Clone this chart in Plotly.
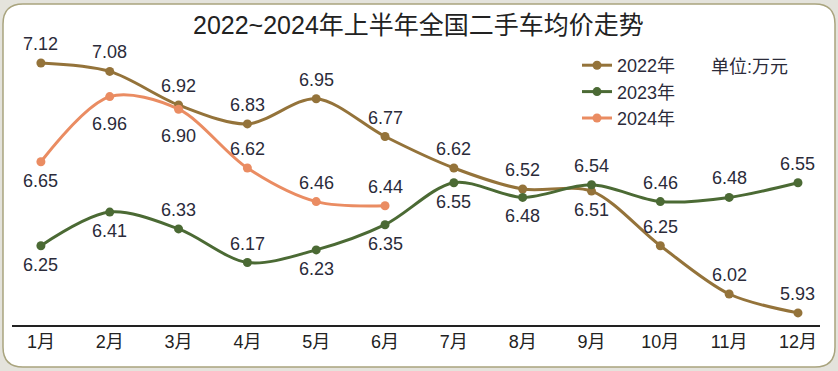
import plotly.graph_objects as go

months = ["1月", "2月", "3月", "4月", "5月", "6月", "7月", "8月", "9月", "10月", "11月", "12月"]
y2022 = [7.12, 7.08, 6.92, 6.83, 6.95, 6.77, 6.62, 6.52, 6.51, 6.25, 6.02, 5.93]
y2023 = [6.25, 6.41, 6.33, 6.17, 6.23, 6.35, 6.55, 6.48, 6.54, 6.46, 6.48, 6.55]
y2024 = [6.65, 6.96, 6.90, 6.62, 6.46, 6.44]

pos2022 = ["a", "a", "a", "a", "a", "a", "a", "a", "b", "a", "a", "a"]
pos2023 = ["b", "b", "a", "a", "b", "b", "b", "b", "a", "a", "a", "a"]
pos2024 = ["b", "B", "B", "a", "a", "a"]

C22, C23, C24 = "#94733a", "#4b6a34", "#ea8c62"
FONT = "Liberation Sans, Arial, Noto Sans CJK SC"
TXT = "#2b2b3a"

W, H = 838, 371
L, R, T, B = 12, 18, 30, 46
pw, ph = W - L - R, H - T - B

def px(x):
    return (x - L) / pw

def py(y):
    return (H - B - y) / ph

fig = go.Figure()
x = list(range(12))
for name, ys, c in [("2022年", y2022, C22), ("2023年", y2023, C23), ("2024年", y2024, C24)]:
    fig.add_trace(go.Scatter(
        x=x[:len(ys)], y=ys, name=name, mode="lines+markers",
        line=dict(color=c, width=3, shape="spline", smoothing=0.9),
        marker=dict(color=c, size=9),
    ))

ann = []
for ys, pos in [(y2022, pos2022), (y2023, pos2023), (y2024, pos2024)]:
    for i, (v, p) in enumerate(zip(ys, pos)):
        shift = {"a": 19, "b": -19, "B": -27}[p]
        ann.append(dict(x=i, y=v, xref="x", yref="y", text=f"{v:.2f}", showarrow=False,
                        yshift=shift, font=dict(size=18, color=TXT, family=FONT)))

ann.append(dict(x=px(418), y=py(25), xref="paper", yref="paper", yanchor="middle",
                text="2022~2024年上半年全国二手车均价走势",
                showarrow=False, font=dict(size=25, color="#222222", family=FONT)))
ann.append(dict(x=px(709), y=py(67), xref="paper", yref="paper", xanchor="left", yanchor="middle",
                text="单位:万元", showarrow=False, font=dict(size=18, color=TXT, family=FONT)))

# rounded card path in pixel coords converted to paper
x0, y0, x1, y1, r = 3, 4, 835, 367, 20
def P(a, b):
    return f"{px(a):.5f},{py(b):.5f}"
path = (f"M {P(x0 + r, y0)} L {P(x1 - r, y0)} Q {P(x1, y0)} {P(x1, y0 + r)} "
        f"L {P(x1, y1 - r)} Q {P(x1, y1)} {P(x1 - r, y1)} L {P(x0 + r, y1)} "
        f"Q {P(x0, y1)} {P(x0, y1 - r)} L {P(x0, y0 + r)} Q {P(x0, y0)} {P(x0 + r, y0)} Z")

fig.update_layout(
    width=W, height=H,
    margin=dict(l=L, r=R, t=T, b=B),
    paper_bgcolor="#e4e3dc", plot_bgcolor="rgba(0,0,0,0)",
    shapes=[dict(type="path", path=path, xref="paper", yref="paper", layer="below",
                 fillcolor="#ffffff", line=dict(color="#a9a47e", width=1.5))],
    annotations=ann,
    showlegend=True,
    legend=dict(x=px(577), y=py(47), xanchor="left", yanchor="top", bgcolor="rgba(0,0,0,0)",
                font=dict(size=18, color=TXT, family=FONT), tracegroupgap=0, itemwidth=30),
    xaxis=dict(range=[-0.42, 11.32], tickvals=x, ticktext=months, showgrid=False, zeroline=False,
               showline=True, linecolor="#222222", linewidth=1.5, ticks="",
               tickfont=dict(size=18, color="#222222", family=FONT)),
    yaxis=dict(range=[7.12 - (H - B - 63) / 210, 7.12 + (63 - T) / 210], visible=False, showgrid=False),
)
fig.write_html("out.html", config={"displayModeBar": False},
               post_script="document.body.style.margin='0';")
